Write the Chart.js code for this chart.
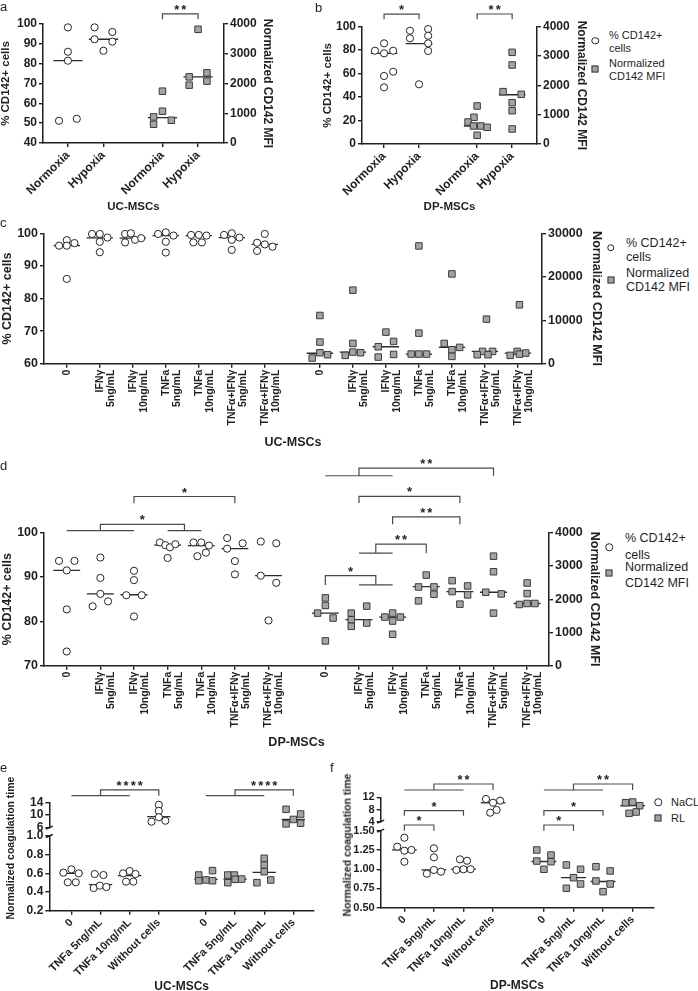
<!DOCTYPE html>
<html>
<head>
<meta charset="utf-8">
<title>CD142 expression and coagulation time in UC-MSCs and DP-MSCs</title>
<script src="https://cdn.jsdelivr.net/npm/chart.js@4.4.1/dist/chart.umd.min.js"></script>
<style>
  html, body { margin: 0; padding: 0; background: #fff; overflow: hidden; }
  body { position: relative; width: 698px; height: 991px; font-family: 'Liberation Sans', Arial, sans-serif; color: #1f1f1f; }
  canvas { position: absolute; }
  .txt { position: absolute; white-space: nowrap; line-height: 1; transform: translateY(-50%); }
  .vtitle { position: absolute; white-space: nowrap; line-height: 1; font-weight: bold; transform: translate(-50%, -50%) rotate(-90deg); }
  .sym { position: absolute; box-sizing: border-box; transform: translate(-50%, -50%); }
  .sym.circle { width: 7.5px; height: 7.5px; border: 1px solid #262626; border-radius: 50%; background: #fff; }
  .sym.square { width: 7px; height: 7px; border: 1px solid #3c3c3c; background: #a4a4a4; }
</style>
</head>
<body>
<script>
// ---- values ----
const abGroups = ['Normoxia', 'Hypoxia'];
const cdGroups = ['0', ['IFNγ', '5ng/mL'], ['IFNγ', '10ng/mL'], ['TNFa', '5ng/mL'], ['TNFa', '10ng/mL'],
                  ['TNFα+IFNγ', '5ng/mL'], ['TNFα+IFNγ', '10ng/mL']];
const efGroups = ['0', 'TNFa 5ng/mL', 'TNFa 10ng/mL', 'Without cells'];

// a: UC-MSCs, normoxia / hypoxia
const aPct = [[98.3, 86.0, 81.5, 51.2, 52.2], [98.3, 96.0, 92.3, 91.1, 86.5]];
const aPctLanes = [[0, 0, 0, -1, 1], [-1, 1, -1, 1, 0]];
const aPctMedian = [81.5, 92.3];
const aMfi = [[1742, 1068, 876, 630, 765], [3822, 2224, 1944, 2359, 2079]];
const aMfiLanes = [[0, 0, -1, -1, 1], [0, -1, -1, 1, 1]];
const aMfiMedian = [856, 2224];
const aPctTicks = ['40', '50', '60', '70', '80', '90', '100'];
const aMfiTicks = ['0', '1000', '2000', '3000', '4000'];
const aBrackets = [[2, 2, 3, 3, 4160, 4337, '**', 'yR']];

// b: DP-MSCs, normoxia / hypoxia
const bPct = [[85.8, 79.5, 77.3, 79.5, 61.6, 58.0, 48.3], [96.6, 98.0, 92.3, 90.1, 85.8, 79.3, 50.9]];
const bPctLanes = [[0, -1, 0, 1, 1, 0, 0], [-1, 1, 1, -1, 1, 1, 0]];
const bPctMedian = [77.3, 85.5];
const bMfi = [[1296, 910, 750, 614, 614, 569, 297], [3127, 2694, 1785, 1694, 1408, 1135, 512]];
const bMfiLanes = [[0, -0.35, -1, -0.4, 0.4, 1.1, 0], [0, 0, -1, 1, 0, 0, 0]];
const bMfiMedian = [614, 1680];
const bPctTicks = ['0', '20', '40', '60', '80', '100'];
const bMfiTicks = ['0', '1000', '2000', '3000', '4000'];
const bBrackets = [[0, 0, 1, 1, 106.3, 110.8, '*', 'yL'], [2, 2, 3, 3, 4252, 4433, '**', 'yR']];

// c: UC-MSCs, cytokine priming
const cPct = [
  [97.9, 97.0, 96.2, 96.2, 86.0],
  [99.8, 99.8, 98.7, 97.4, 94.2],
  [99.8, 100.0, 97.2, 98.0, 98.5],
  [99.8, 100.3, 99.3, 97.4, 94.1],
  [99.5, 99.5, 99.3, 97.2, 97.2],
  [99.5, 100.0, 98.7, 98.0, 94.9],
  [99.8, 97.1, 96.6, 95.9, 94.6]];
const cPctLanes = [
  [0, 1, -1, 0, 0], [-1, 0, 1, 0, 0], [-1, -0.25, -1, 0.3, 1.1], [-1, 0, 1, 0, 0],
  [-1, 0, 1, -0.7, 0.4], [-1, 0, 1, 0, 0], [0, -1, 0, 1, -1]];
const cPctMedian = [96.2, 98.6, 98.5, 99.3, 99.3, 98.7, 96.6];
const cMfi = [
  [11090, 4980, 2525, 2066, 1300],
  [16920, 4670, 2680, 2525, 1913],
  [7270, 5130, 3900, 1530, 2140],
  [27090, 7040, 2220, 2220, 2220],
  [20660, 4670, 3210, 3750, 1680],
  [10250, 2830, 2830, 2070, 2070],
  [13550, 2830, 1913, 2450, 2200]];
const cMfiLanes = [
  [0, 0, 0, 1, -1], [0, 0, 0, 1, -1], [0, 1, -1, -1, 1], [0, 0, -1, 0, 1],
  [0, -1, 0, 1, 0], [0.2, -0.3, 1, -1, 0.4], [0.2, -0.1, -1, 1, 0.2]];
const cMfiMedian = [2400, 2680, 3900, 2220, 3750, 2830, 2450];
const cPctTicks = ['60', '70', '80', '90', '100'];
const cMfiTicks = ['0', '10000', '20000', '30000'];

// d: DP-MSCs, cytokine priming
const dPct = [
  [93.65, 93.65, 91.5, 82.7, 73.2],
  [94.4, 89.8, 86.2, 83.4, 84.5],
  [91.4, 89.3, 85.9, 85.9, 81.1],
  [97.8, 97.2, 96.7, 97.4, 94.3],
  [97.8, 97.8, 97.1, 95.5, 94.7],
  [98.8, 96.4, 97.6, 93.6, 90.6],
  [98.0, 97.6, 90.3, 88.7, 80.2]];
const dPctLanes = [
  [-1, 1, 0, 0, 0], [0, 0, 0, -1, 1], [0, 0, -1, 1, 0], [-1, -0.3, 0.3, 1, 0],
  [-1, 0, 1, 0.6, -0.5], [-1, -1, 1, 0, 0], [-1, 1, -1, 1, 0]];
const dPctMedian = [91.5, 86.2, 86.0, 97.2, 97.1, 96.4, 90.3];
const dMfi = [
  [2040, 1811, 1582, 1433, 746],
  [1582, 1383, 1184, 1791, 1284],
  [1463, 1582, 1343, 1463, 945],
  [2726, 2368, 2368, 2149, 1950],
  [2557, 2229, 2398, 2129, 1851],
  [3294, 2826, 2209, 2159, 1582],
  [2488, 2169, 1841, 1871, 1871]];
const dMfiLanes = [
  [0, 0, -1, 1, 0], [-1, -1, -1, 1, 1], [-1, 0, 0, 1, 0], [0, -1, 1, 1, -1],
  [-1, -1, 1, 1, 0], [0, 0, -1, 1, 0], [0, 0, -1, 0, 1]];
const dMfiMedian = [1582, 1383, 1463, 2378, 2229, 2209, 1871];
const dPctTicks = ['70', '80', '90', '100'];
const dMfiTicks = ['0', '1000', '2000', '3000', '4000'];
const dBrackets = [
  [0, 2, 3, 4, 100.45, 101.9, '*', 'yL'],
  [2, 2, 5, 5, 106.67, 108.16, '*', 'yL'],
  [7, 9, 12, 12, 5713, 5940, '**', 'yR'],
  [8, 8, 11, 11, 4895, 5095, '*', 'yR'],
  [9, 9, 11, 11, 4251, 4478, '**', 'yR'],
  [8, 9, 10, 10, 3385, 3654, '**', 'yR'],
  [7, 7, 8, 9, 2430, 2707, '*', 'yR']];

// e: UC-MSCs coagulation (NaCL circles / RL squares)
const eNaCl = [[0.607, 0.643, 0.600, 0.504, 0.504], [0.593, 0.582, 0.443, 0.468, 0.454],
               [0.600, 0.625, 0.593, 0.511, 0.511], [13.2, 11.3, 9.3, 7.9, 8.2]];
const eNaClLanes = [[-1.1, 0, 1, -0.5, 0.6], [-0.8, 0.4, -0.95, -0.1, 0.8], [-0.9, 0, 0.8, -0.5, 0.5], [0, 0, 0, -1, 0.9]];
const eNaClMedian = [0.600, 0.480, 0.575, 9.47];
const eRl = [[0.582, 0.629, 0.521, 0.529, 0.521], [0.582, 0.582, 0.539, 0.500, 0.536],
             [0.761, 0.689, 0.618, 0.500, 0.529], [11.8, 10.3, 8.6, 7.2, 7.4]];
const eRlLanes = [[-1, 0.9, -1, 0, 0.9], [-1, -0.1, 0.9, -1, 0], [0, 0, 0, -1, 0.9], [-1, 1, 0, -1, 1]];
const eRlMedian = [0.536, 0.539, 0.611, 8.6];
const eLowTicks = ['0.2', '0.4', '0.6', '0.8', '1.0'];
const eHighTicks = ['6', '10', '14'];
const eBrackets = [[0, 2, 3, 3, 16.08, 17.9, '****', 'yT'], [4, 6, 7, 7, 16.08, 17.9, '****', 'yT']];

// f: DP-MSCs coagulation
const fNaCl = [[1.409, 1.292, 1.240, 1.250, 1.097], [1.271, 1.154, 0.942, 0.990, 0.968],
               [1.128, 1.110, 0.990, 0.999, 1.000], [11.44, 10.23, 10.9, 6.95, 7.84]];
const fNaClLanes = [[0, -1, 0, 1, 0], [0, 0, -1, 0, 1], [-0.5, 0.5, -1, 0, 1], [-1, 0, 1, -0.4, 0.5]];
const fNaClMedian = [1.25, 0.99, 1.0, 10.2];
const fRl = [[1.249, 1.106, 1.184, 1.097, 0.999], [1.055, 0.999, 0.890, 0.808, 0.752],
             [1.032, 0.977, 0.847, 0.808, 0.708], [10.23, 10.46, 9.25, 6.75, 7.18]];
const fRlLanes = [[-1, -1, 1, 1, 0], [-1, 1, 0, 1, -1], [-1, 1, -1, 1, 0], [-1, 0, 1, -0.5, 0.5]];
const fRlMedian = [1.10, 0.89, 0.84, 9.25];
const fLowTicks = ['0.50', '0.75', '1.00', '1.25', '1.50'];
const fHighTicks = ['4', '8', '12'];
const fBrackets = [
  [0, 2, 3, 3, 14.39, 16.36, '**', 'yT'], [0, 0, 2, 2, 5.97, 7.61, '*', 'yT'], [0, 0, 1, 1, 1.05, 2.92, '*', 'yT'],
  [4, 6, 7, 7, 14.39, 16.36, '**', 'yT'], [4, 4, 6, 6, 5.97, 7.61, '*', 'yT'], [4, 4, 5, 5, 1.05, 2.92, '*', 'yT']];

// ---- drawing ----
Chart.defaults.font.family = "'Liberation Sans', Arial, sans-serif";
const INK = '#1f1f1f';
const CIRCLE = { pointStyle: 'circle', pointRadius: 3.6, pointBackgroundColor: '#ffffff', pointBorderColor: '#262626', pointBorderWidth: 1 };
const SQUARE = { pointStyle: 'rect', pointRadius: 4.6, pointBackgroundColor: '#a4a4a4', pointBorderColor: '#3c3c3c', pointBorderWidth: 1 };
const run = (start, n) => Array.from({ length: n }, (_, i) => start + i);
const brokenAxis = g => (g % 4 === 3 ? 'yT' : 'yB');

function yAxis(o, width) {
  if (o.gap) {
    return { type: 'linear', position: 'left', min: 0, max: 1, stack: 'broken', stackWeight: o.stackW, weight: o.weight,
      afterFit: s => { s.width = width; },
      ticks: { display: false }, grid: { display: false }, border: { display: false } };
  }
  const vals = o.labels.map(Number);
  const ax = {
    type: 'linear', position: o.position || 'left', min: vals[0], max: vals[vals.length - 1],
    afterBuildTicks: s => { s.ticks = vals.map(v => ({ value: v })); },
    afterFit: s => { s.width = width; },
    ticks: { autoSkip: false, callback: (v, i) => o.labels[i], font: { size: o.tickSize, weight: 'bold' }, color: INK, padding: 2 },
    grid: { drawOnChartArea: false, tickLength: 4, color: INK, lineWidth: 1.4 },
    border: { color: INK, width: 1.5 },
    title: { display: !!o.title, text: o.title || '', font: { size: o.titleSize, weight: 'bold', lineHeight: 1 }, padding: 0, color: INK }
  };
  if (o.stackW) Object.assign(ax, { stack: 'broken', stackWeight: o.stackW, weight: o.weight });
  return ax;
}

function stars(ctx, text, cx, y) {
  const gap = 2;
  const w = ctx.measureText('*').width;
  let x = cx - (text.length * w + (text.length - 1) * gap) / 2;
  for (const ch of text) { ctx.fillText(ch, x, y); x += w + gap; }
}

function bracketPlugin(p) {
  return {
    id: 'sig',
    afterDraw(chart) {
      const { ctx } = chart, x = chart.scales.x;
      ctx.save();
      ctx.strokeStyle = '#4a4a4a'; ctx.lineWidth = 1.2; ctx.fillStyle = INK;
      ctx.font = "bold 13px 'Liberation Sans', Arial, sans-serif";
      ctx.textAlign = 'left'; ctx.textBaseline = 'alphabetic';
      for (const [a0, a1, b0, b1, lo, hi, text, axis] of p.brackets) {
        const y = chart.scales[axis];
        const yl = y.getPixelForValue(lo), yh = y.getPixelForValue(hi);
        const xa0 = x.getPixelForValue(p.xpos[a0]), xa1 = x.getPixelForValue(p.xpos[a1]);
        const xb0 = x.getPixelForValue(p.xpos[b0]), xb1 = x.getPixelForValue(p.xpos[b1]);
        const ma = (xa0 + xa1) / 2, mb = (xb0 + xb1) / 2;
        ctx.beginPath();
        if (a1 !== a0) { ctx.moveTo(xa0, yl); ctx.lineTo(xa1, yl); }
        if (b1 !== b0) { ctx.moveTo(xb0, yl); ctx.lineTo(xb1, yl); }
        ctx.moveTo(ma, yl); ctx.lineTo(ma, yh); ctx.lineTo(mb, yh); ctx.lineTo(mb, yl);
        ctx.stroke();
        stars(ctx, text, (ma + mb) / 2, yh);
      }
      ctx.restore();
    }
  };
}

const breakPlugin = {
  id: 'axisBreak',
  afterDraw(chart) {
    const t = chart.scales.yT, b = chart.scales.yB;
    if (!t || !b) return;
    const { ctx } = chart, x = chart.chartArea.left;
    ctx.save();
    ctx.strokeStyle = INK; ctx.lineWidth = 1.4;
    for (const y of [t.bottom, b.top]) {
      ctx.beginPath(); ctx.moveTo(x - 3.5, y + 1.5); ctx.lineTo(x + 3.5, y - 1.5); ctx.stroke();
    }
    ctx.restore();
  }
};

function buildPanel(p) {
  const cv = document.createElement('canvas');
  const w = p.box.r - p.box.l, h = p.box.b - p.box.t;
  cv.width = w; cv.height = h;
  cv.style.left = p.box.l + 'px'; cv.style.top = p.box.t + 'px';
  cv.style.width = w + 'px'; cv.style.height = h + 'px';
  document.body.appendChild(cv);

  const points = [], medians = [];
  for (const s of p.series) {
    const pts = {}, meds = {};
    s.groups.forEach((g, k) => {
      const axis = typeof s.axis === 'function' ? s.axis(g) : s.axis;
      pts[axis] = pts[axis] || [];
      meds[axis] = meds[axis] || [];
      s.vals[k].forEach((v, j) => pts[axis].push({ x: p.xpos[g] + s.lanes[k][j] * p.laneW, y: v }));
      meds[axis].push({ x: p.xpos[g] - p.medHW, y: s.med[k] }, { x: p.xpos[g] + p.medHW, y: s.med[k] }, { x: p.xpos[g], y: null });
    });
    for (const a in pts) points.push(Object.assign({ data: pts[a], yAxisID: a, clip: false }, s.mark));
    for (const a in meds) medians.push({ data: meds[a], yAxisID: a, showLine: true, pointRadius: 0,
      borderColor: '#2b2b2b', borderWidth: 1.3, clip: false });
  }

  const scales = {
    x: {
      type: 'linear', min: p.xmin, max: p.xmax,
      afterBuildTicks: s => { s.ticks = p.xpos.map(v => ({ value: v })); },
      afterFit: s => { s.height = p.box.b - p.plot.y1; },
      ticks: { autoSkip: false, minRotation: p.rot, maxRotation: p.rot, callback: (v, i) => p.xlabels[i],
        font: { size: p.xFont, weight: 'bold', lineHeight: 1.05 }, color: INK, padding: 2 },
      grid: { drawOnChartArea: false, tickLength: 4, color: INK, lineWidth: 1.4 },
      border: { color: INK, width: 1.5 },
      title: { display: true, text: p.xtitle, font: { size: p.xtitleSize, weight: 'bold', lineHeight: 1 }, padding: 0, color: INK }
    }
  };
  for (const id in p.y) {
    const o = p.y[id];
    scales[id] = yAxis(o, o.position === 'right' ? p.box.r - p.plot.x1 : p.plot.x0 - p.box.l);
  }

  new Chart(cv, {
    type: 'scatter',
    data: { datasets: points.concat(medians) },
    options: {
      responsive: false, animation: false, events: [],
      layout: { padding: { top: p.plot.y0 - p.box.t, left: 0, bottom: 0, right: p.y.yR ? 0 : p.box.r - p.plot.x1 } },
      plugins: { legend: { display: false }, tooltip: { enabled: false } },
      scales
    },
    plugins: [bracketPlugin(p), breakPlugin]
  });
}

const panels = [
  { // a
    box: { l: 0, t: 0, r: 273, b: 213 }, plot: { x0: 43, x1: 224, y0: 24, y1: 143 },
    xmin: -0.7, xmax: 4.39, xpos: [0, 1, 2.66, 3.66], xlabels: abGroups.concat(abGroups), rot: 45, xFont: 12,
    xtitle: 'UC-MSCs', xtitleSize: 11.5, laneW: 0.25, medHW: 0.41,
    y: { yL: { labels: aPctTicks, title: '% CD142+ cells', titleSize: 11.5, tickSize: 12 },
         yR: { labels: aMfiTicks, title: 'Normalized CD142 MFI', titleSize: 12, tickSize: 12, position: 'right' } },
    series: [{ vals: aPct, lanes: aPctLanes, med: aPctMedian, groups: [0, 1], mark: CIRCLE, axis: 'yL' },
             { vals: aMfi, lanes: aMfiLanes, med: aMfiMedian, groups: [2, 3], mark: SQUARE, axis: 'yR' }],
    brackets: aBrackets
  },
  { // b
    box: { l: 322, t: 0, r: 587, b: 213 }, plot: { x0: 362, x1: 537, y0: 26.7, y1: 144 },
    xmin: -0.63, xmax: 4.37, xpos: [0, 1, 2.66, 3.66], xlabels: abGroups.concat(abGroups), rot: 45, xFont: 12,
    xtitle: 'DP-MSCs', xtitleSize: 11.5, laneW: 0.26, medHW: 0.38,
    y: { yL: { labels: bPctTicks, title: '% CD142+ cells', titleSize: 11.5, tickSize: 12 },
         yR: { labels: bMfiTicks, title: 'Normalized CD142 MFI', titleSize: 12, tickSize: 12, position: 'right' } },
    series: [{ vals: bPct, lanes: bPctLanes, med: bPctMedian, groups: [0, 1], mark: CIRCLE, axis: 'yL' },
             { vals: bMfi, lanes: bMfiLanes, med: bMfiMedian, groups: [2, 3], mark: SQUARE, axis: 'yR' }],
    brackets: bBrackets
  },
  { // c
    box: { l: 1, t: 215, r: 603, b: 449 }, plot: { x0: 44, x1: 542, y0: 233.3, y1: 363.7 },
    xmin: -0.69, xmax: 14.4, xpos: run(0, 7).concat(run(7.67, 7)), xlabels: cdGroups.concat(cdGroups), rot: 90, xFont: 10.5,
    xtitle: 'UC-MSCs', xtitleSize: 12.5, laneW: 0.233, medHW: 0.4,
    y: { yL: { labels: cPctTicks, title: '% CD142+ cells', titleSize: 12.5, tickSize: 12.5 },
         yR: { labels: cMfiTicks, title: 'Normalized CD142 MFI', titleSize: 12.5, tickSize: 12.5, position: 'right' } },
    series: [{ vals: cPct, lanes: cPctLanes, med: cPctMedian, groups: run(0, 7), mark: CIRCLE, axis: 'yL' },
             { vals: cMfi, lanes: cMfiLanes, med: cMfiMedian, groups: run(7, 7), mark: SQUARE, axis: 'yR' }],
    brackets: []
  },
  { // d
    box: { l: 1, t: 446, r: 601, b: 749 }, plot: { x0: 44, x1: 549, y0: 532.7, y1: 665.7 },
    xmin: -0.676, xmax: 14.34, xpos: run(0, 7).concat(run(7.69, 7)), xlabels: cdGroups.concat(cdGroups), rot: 90, xFont: 10.5,
    xtitle: 'DP-MSCs', xtitleSize: 12.5, laneW: 0.23, medHW: 0.4,
    y: { yL: { labels: dPctTicks, title: '% CD142+ cells', titleSize: 12.5, tickSize: 12.5 },
         yR: { labels: dMfiTicks, title: 'Normalized CD142 MFI', titleSize: 12.5, tickSize: 12.5, position: 'right' } },
    series: [{ vals: dPct, lanes: dPctLanes, med: dPctMedian, groups: run(0, 7), mark: CIRCLE, axis: 'yL' },
             { vals: dMfi, lanes: dMfiLanes, med: dMfiMedian, groups: run(7, 7), mark: SQUARE, axis: 'yR' }],
    brackets: dBrackets
  },
  { // e
    box: { l: 20, t: 770, r: 326, b: 993 }, plot: { x0: 49.3, x1: 314, y0: 802.3, y1: 910.7 },
    xmin: -0.76, xmax: 8.33, xpos: [0, 1, 2, 3, 4.62, 5.62, 6.62, 7.62], xlabels: efGroups.concat(efGroups), rot: 45, xFont: 11,
    xtitle: 'UC-MSCs', xtitleSize: 12, laneW: 0.25, medHW: 0.4,
    y: { yT: { labels: eHighTicks, tickSize: 12, stackW: 25.4, weight: 3 },
         yG: { gap: true, stackW: 8.3, weight: 2 },
         yB: { labels: eLowTicks, tickSize: 12, stackW: 74.7, weight: 1 } },
    series: [{ vals: eNaCl, lanes: eNaClLanes, med: eNaClMedian, groups: [0, 1, 2, 3], mark: CIRCLE, axis: brokenAxis },
             { vals: eRl, lanes: eRlLanes, med: eRlMedian, groups: [4, 5, 6, 7], mark: SQUARE, axis: brokenAxis }],
    brackets: eBrackets
  },
  { // f
    box: { l: 350, t: 766, r: 662, b: 992 }, plot: { x0: 380.7, x1: 653.3, y0: 797.3, y1: 907.7 },
    xmin: -0.8, xmax: 8.42, xpos: [0, 1, 2, 3, 4.72, 5.72, 6.72, 7.72], xlabels: efGroups.concat(efGroups), rot: 45, xFont: 11,
    xtitle: 'DP-MSCs', xtitleSize: 12, laneW: 0.24, medHW: 0.42,
    y: { yT: { labels: fHighTicks, tickSize: 11, stackW: 24.4, weight: 3 },
         yG: { gap: true, stackW: 9, weight: 2 },
         yB: { labels: fLowTicks, tickSize: 11, stackW: 77, weight: 1 } },
    series: [{ vals: fNaCl, lanes: fNaClLanes, med: fNaClMedian, groups: [0, 1, 2, 3], mark: CIRCLE, axis: brokenAxis },
             { vals: fRl, lanes: fRlLanes, med: fRlMedian, groups: [4, 5, 6, 7], mark: SQUARE, axis: brokenAxis }],
    brackets: fBrackets
  }
];

// panel letters, legends and the shared titles of the broken axes
const texts = [
  ['a', 0, 5.5, 13], ['b', 315, 7, 13], ['c', 0, 221.5, 13], ['d', 0, 465, 13], ['e', 0, 767, 13], ['f', 330, 767, 13],
  ['% CD142+', 609, 35, 11], ['cells', 609, 47.7, 11], ['Normalized', 609, 63.3, 11], ['CD142 MFI', 609, 76, 11],
  ['% CD142+', 626, 243.3, 12.5], ['cells', 626, 256.7, 12.5], ['Normalized', 626, 273.3, 12.5], ['CD142 MFI', 626, 286.7, 12.5],
  ['% CD142+', 625, 538.3, 12.5], ['cells', 625, 555, 12.5], ['Normalized', 625, 566.7, 12.5], ['CD142 MFI', 625, 583.3, 12.5],
  ['NaCL', 671, 802.3, 11], ['RL', 671, 818.3, 11]
];
const legendKeys = [
  ['circle', 595, 40.7], ['square', 595, 69.3], ['circle', 610.7, 247.7], ['square', 610.7, 280],
  ['circle', 609.3, 547.3], ['square', 609.3, 573.3], ['circle', 658.3, 802.3], ['square', 658.3, 818.3]
];
const sideTitles = [['Normalized coagulation time', 10, 848, 10.5], ['Normalized coagulation time', 347.3, 845, 10.5]];

function addDiv(cls, text, x, y, size) {
  const d = document.createElement('div');
  d.className = cls;
  if (text) d.textContent = text;
  d.style.left = x + 'px'; d.style.top = y + 'px';
  if (size) d.style.fontSize = size + 'px';
  document.body.appendChild(d);
}

panels.forEach(buildPanel);
texts.forEach(([t, x, y, s]) => addDiv('txt', t, x, y, s));
legendKeys.forEach(([k, x, y]) => addDiv('sym ' + k, '', x, y));
sideTitles.forEach(([t, x, y, s]) => addDiv('vtitle', t, x, y, s));
</script>
</body>
</html>
